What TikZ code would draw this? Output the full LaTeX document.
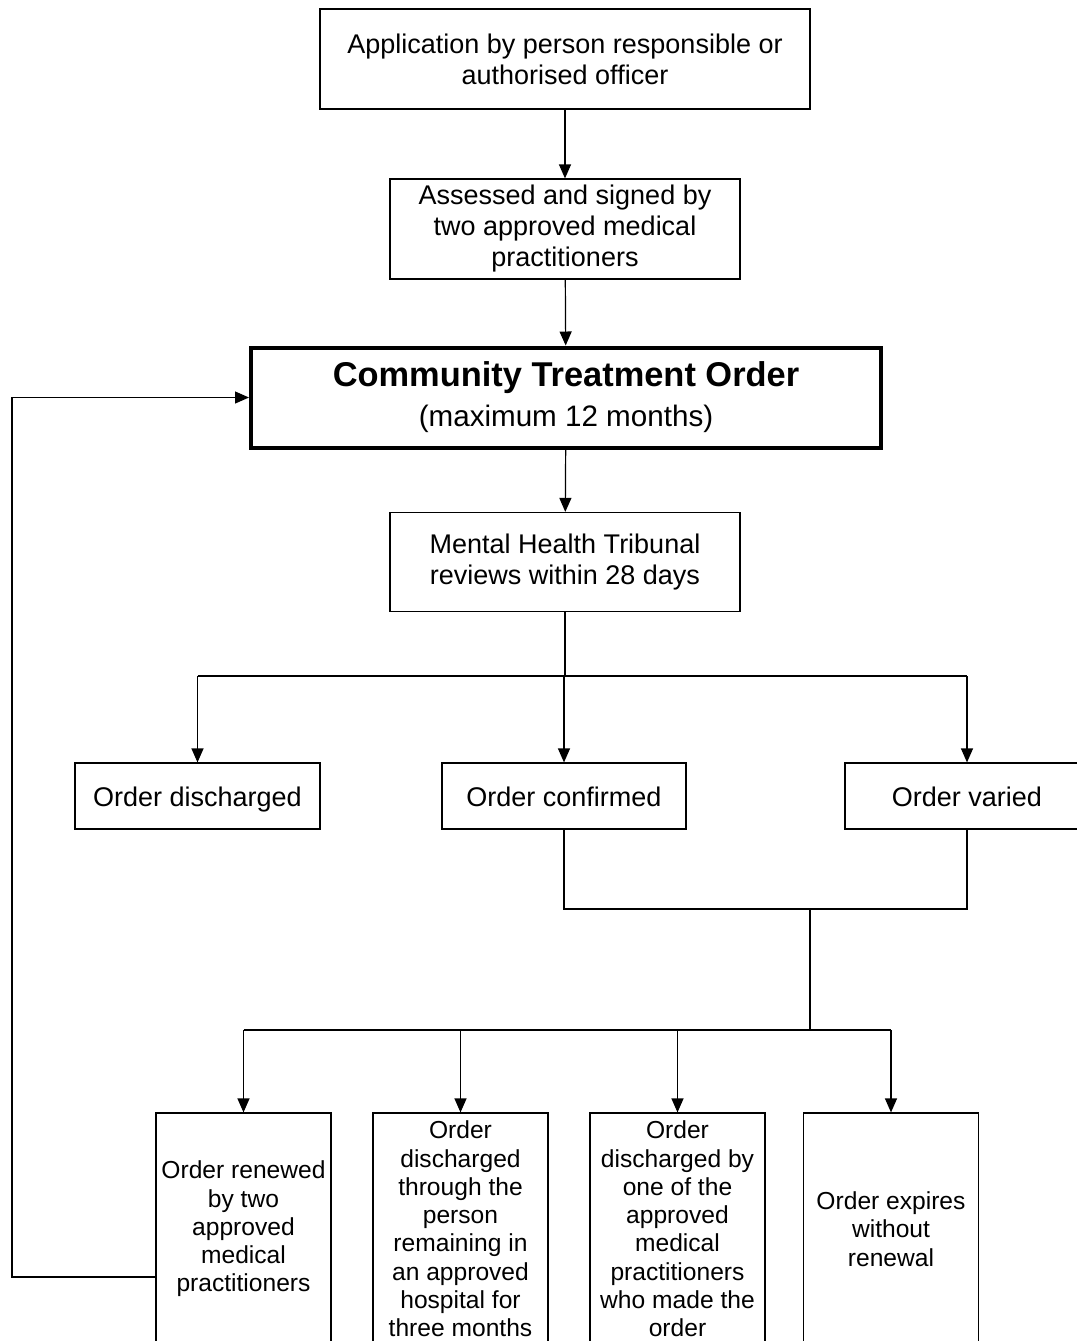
\documentclass[tikz,border=0pt]{standalone}
\usepackage{fontspec}
\setmainfont{Liberation Sans}
\usetikzlibrary{arrows.meta}
\begin{document}
\begin{tikzpicture}[x=0.5pt, y=-0.5pt,
    box/.style={draw, line width=0.6pt, align=center, inner sep=0pt, font=\fontsize{13.5}{15.5}\selectfont},
    outcome/.style={box, minimum height=33pt, text height=10pt, text depth=0pt},
    leaf/.style={box, minimum width=87.5pt, minimum height=116pt, font=\fontsize{12.3}{14.15}\selectfont},
    arr/.style={-{Triangle[length=7pt,width=6pt]}, line width=0.6pt}]
  \useasboundingbox (0,0) rectangle (1077,1341); %
  \node[box, minimum width=245pt, minimum height=50pt] (app) at (565,59) {Application by person responsible or\\authorised officer}; %
  \node[box, minimum width=175pt, minimum height=50pt] (ass) at (565,229) {Assessed and signed by\\two approved medical\\practitioners}; %
  \node[box, line width=2pt, minimum width=315pt, minimum height=50pt, font=\fontsize{14.8}{20}\selectfont] (cto) at (566,397.5)
    {{\fontsize{17.2}{20}\selectfont\bfseries Community Treatment Order}\\(maximum 12 months)}; %
  \node[box, minimum width=175pt, minimum height=49.5pt] (mht) at (565,562) {Mental Health Tribunal\\reviews within 28 days}; %
  \node[outcome, minimum width=122.5pt] (disch) at (197.5,796) {Order discharged}; %
  \node[outcome, minimum width=122pt] (conf) at (564,796) {Order confirmed}; %
  \node[outcome, minimum width=122pt] (var) at (967,796) {Order varied}; %
  \node[leaf] (b1) at (243.5,1229) {Order renewed\\by two\\approved\\medical\\practitioners}; %
  \node[leaf] (b2) at (460.5,1229) {Order\\discharged\\through the\\person\\remaining in\\an approved\\hospital for\\three months}; %
  \node[leaf] (b3) at (677.5,1229) {Order\\discharged by\\one of the\\approved\\medical\\practitioners\\who made the\\order}; %
  \node[leaf] (b4) at (891,1229) {Order expires\\without\\renewal}; %
  \coordinate (j) at (565,676); %
  \coordinate (k) at (810,909); %
  \coordinate (m) at (810,1030); %
  \coordinate (back) at (12,1277); %
  \draw[arr] (app) -- (ass); %
  \draw[arr] (ass) -- (cto); %
  \draw[arr] (cto) -- (mht); %
  \draw[line width=0.6pt] (mht) -- (j); %
  \draw[line width=0.6pt] (disch |- j) -- (var |- j); %
  \foreach \n in {disch,conf,var}
    \draw[arr] (\n |- j) -- (\n); %
  \draw[line width=0.6pt] (conf.south) |- (var |- k) -- (var.south); %
  \draw[line width=0.6pt] (k) -- (m); %
  \draw[line width=0.6pt] (b1 |- m) -- (b4 |- m); %
  \foreach \n in {b1,b2,b3,b4}
    \draw[arr] (\n |- m) -- (\n); %
  \draw[arr] (b1.west |- back) -- (back) |- (cto.west); %
\end{tikzpicture}
\end{document}
